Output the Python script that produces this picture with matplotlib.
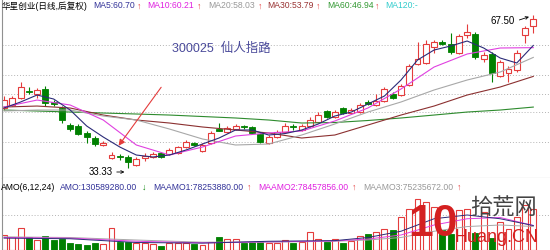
import matplotlib
matplotlib.use("Agg")
import matplotlib.pyplot as plt
from matplotlib.patches import Rectangle
import numpy as np

plt.rcParams['font.family'] = ['Liberation Sans', 'Noto Sans CJK SC', 'DejaVu Sans']

# daily candles (price)
opens = [46.73, 47.40, 48.96, 50.60, 49.85, 50.97, 47.95, 46.73, 42.93, 42.71,
         41.15, 40.03, 38.47, 35.56, 35.90, 35.79, 34.00, 35.56, 35.79, 36.68,
         36.46, 36.68, 38.02, 38.91, 37.13, 38.91, 41.93, 41.37, 42.04, 42.60,
         42.49, 40.92, 38.91, 40.25, 41.37, 42.60, 41.82, 42.71, 43.60, 46.06,
         44.72, 46.73, 45.61, 45.83, 47.95, 47.40, 48.29, 49.85, 49.63, 51.86,
         56.55, 56.78, 60.35, 61.35, 61.02, 59.01, 63.03, 63.25, 57.67, 58.79,
         53.87, 54.54, 55.21, 63.03, 65.04]
highs = [49.41, 49.41, 52.53, 51.42, 51.20, 51.64, 48.51, 47.17, 43.38, 43.15,
         41.59, 40.48, 39.36, 36.90, 36.46, 36.23, 35.79, 36.68, 36.90, 36.90,
         37.80, 38.24, 39.58, 39.14, 38.91, 41.59, 43.38, 42.71, 43.15, 42.93,
         42.71, 41.15, 40.70, 41.82, 43.38, 43.15, 43.15, 44.72, 45.83, 46.28,
         46.28, 46.95, 46.73, 47.84, 48.51, 49.85, 51.42, 50.30, 52.09, 56.55,
         61.47, 61.91, 61.91, 61.91, 63.48, 63.25, 65.49, 63.70, 59.23, 59.23,
         57.45, 56.11, 59.68, 65.04, 67.50]
lows = [46.28, 47.17, 48.74, 49.85, 48.96, 47.17, 47.17, 43.38, 41.59, 40.70,
        38.91, 38.24, 38.24, 35.34, 35.12, 33.33, 33.78, 34.89, 35.56, 35.56,
        36.23, 36.46, 37.80, 38.24, 36.90, 38.69, 41.59, 41.15, 41.82, 42.04,
        40.92, 38.91, 38.69, 40.03, 41.15, 41.82, 41.59, 42.49, 43.38, 44.50,
        44.50, 45.38, 45.38, 45.61, 47.40, 47.17, 48.07, 48.74, 49.41, 51.64,
        56.33, 56.55, 59.01, 60.80, 58.79, 58.79, 62.36, 57.67, 57.00, 52.53,
        53.65, 52.53, 54.76, 61.24, 63.48]
closes = [48.51, 48.96, 51.42, 50.30, 50.75, 47.84, 47.70, 44.05, 42.04, 40.92,
          40.25, 38.69, 38.91, 36.23, 35.68, 34.67, 35.34, 36.01, 36.46, 35.79,
          37.35, 38.02, 39.14, 38.47, 38.47, 41.15, 41.70, 42.26, 42.71, 42.40,
          41.15, 39.14, 40.25, 41.37, 42.71, 42.38, 42.71, 44.05, 45.16, 44.72,
          45.83, 45.61, 46.28, 47.40, 47.73, 48.29, 50.97, 48.96, 51.64, 56.11,
          57.67, 61.02, 61.47, 61.13, 59.23, 62.81, 63.70, 58.12, 58.56, 54.54,
          57.00, 55.44, 59.01, 64.59, 66.61]

# moving average lines
ma5_idx = list(range(0, 65, 2))
ma5 = [46.73, 48.07, 49.63, 48.74, 46.28, 42.71, 40.25, 38.02, 36.23, 35.79,
       36.23, 37.35, 38.69, 40.03, 41.82, 41.82, 40.70, 41.03, 41.82, 43.16,
       44.94, 45.83, 47.62, 49.41, 52.98, 57.45, 59.68, 60.57, 61.69, 60.13,
       57.89, 56.78, 60.70]
ma_idx = list(range(0, 65, 4))
ma10 = [46.95, 48.51, 47.40, 44.05, 38.47, 36.23, 38.02, 40.48, 41.15, 41.59,
        43.83, 46.73, 50.97, 55.88, 58.79, 60.13, 60.21]
ma20 = [46.06, 46.28, 46.28, 44.94, 44.05, 42.04, 39.81, 38.47, 38.69, 40.70,
        43.16, 45.83, 48.07, 50.75, 52.98, 54.77, 58.03]
ma30 = [46.95, 47.17, 46.73, 45.16, 44.05, 43.38, 42.49, 41.82, 41.15, 40.03,
        40.70, 42.93, 45.16, 47.17, 49.63, 51.42, 53.79]
ma60 = [46.28, 46.06, 45.83, 45.61, 45.39, 45.16, 44.83, 44.50, 44.05, 43.38,
        43.49, 43.94, 44.50, 45.16, 45.83, 46.28, 46.94]
price_grid = [60.80, 54.10, 49.85, 45.83, 39.14]

# turnover (AMO, millions)
amo = [48.0, 41.6, 70.4, 41.6, 32.0, 44.8, 32.0, 35.2, 22.4, 19.2,
       16.0, 22.4, 19.2, 70.4, 25.6, 25.6, 22.4, 22.4, 19.2, 12.8,
       22.4, 22.4, 22.4, 19.2, 16.0, 25.6, 41.6, 35.2, 35.2, 22.4,
       25.6, 28.8, 22.4, 22.4, 32.0, 22.4, 25.6, 57.6, 35.2, 25.6,
       35.2, 22.4, 28.8, 44.8, 51.2, 57.6, 67.2, 64.0, 105.6, 131.2,
       163.2, 153.6, 137.6, 64.0, 51.2, 128.0, 131.2, 54.4, 121.6, 38.4,
       89.6, 67.2, 105.6, 144.0, 130.59]
vol_ma_idx = [0, 8, 16, 24, 32, 40, 44, 48, 52, 56, 60, 64]
maamo1 = [38, 36, 24, 22, 28, 30, 40, 60, 100, 112, 100, 78.25]
maamo2 = [40, 38, 28, 23, 26, 29, 35, 48, 80, 100, 104, 78.46]
maamo3 = [42, 40, 32, 25, 25, 28, 32, 40, 60, 75, 80, 75.24]
vol_grid = [112]

RED = '#e43c3c'
GREEN = '#008000'
W, H = 550, 250

fig = plt.figure(figsize=(5.5, 2.5), dpi=100)
ax1 = fig.add_axes([2 / W, 1 - 178 / H, 548 / W, 178 / H])
ax2 = fig.add_axes([2 / W, 0, 548 / W, 72 / H])

bw = 0.72
for i in range(len(opens)):
    o, h, l, c = opens[i], highs[i], lows[i], closes[i]
    if c >= o:
        ax1.vlines(i, max(o, c), h, color=RED, lw=0.8, zorder=2)
        ax1.vlines(i, l, min(o, c), color=RED, lw=0.8, zorder=2)
        ax1.add_patch(Rectangle((i - bw / 2, o), bw, max(c - o, 0.25),
                                facecolor='white', edgecolor=RED, lw=0.8, zorder=2))
    else:
        ax1.vlines(i, l, h, color=GREEN, lw=0.8, zorder=2)
        ax1.add_patch(Rectangle((i - bw / 2, c), bw, max(o - c, 0.3),
                                facecolor=GREEN, edgecolor=GREEN, lw=0.6, zorder=2))

ax1.plot(ma_idx, ma60, color='#2e8b2e', lw=0.8, zorder=3)
ax1.plot(ma_idx, ma30, color='#8b3030', lw=0.8, zorder=3)
ax1.plot(ma_idx, ma20, color='#a8a8a8', lw=0.8, zorder=3)
ax1.plot(ma_idx, ma10, color='#e040e0', lw=0.8, zorder=3)
ax1.plot(ma5_idx, ma5, color='#2b2b78', lw=0.8, zorder=3)

for g in price_grid:
    ax1.axhline(g, color='#b4b4b4', lw=0.7, ls=(0, (1, 2)), zorder=1)

ax1.set_xlim(-0.242, 66.02)
ax1.set_ylim(31.10, 70.85)

# annotations
ax1.text(20.3, 59.9, '300025  仙人指路', color='#4a4a9a', fontsize=9,
         va='center', ha='left')
ax1.annotate('', xy=(13.66, 37.80), xytext=(19.2, 51.86),
             arrowprops=dict(arrowstyle='-|>', color=RED, lw=0.8, mutation_scale=9))
ax1.annotate('', xy=(14.9, 32.44), xytext=(13.3, 32.44),
             arrowprops=dict(arrowstyle='->', color='black', lw=0.6, mutation_scale=5))
ax1.text(13.1, 32.44, '33.33', fontsize=7, ha='right', va='center')
ax1.annotate('', xy=(63.8, 67.3), xytext=(62.0, 66.2),
             arrowprops=dict(arrowstyle='->', color='black', lw=0.6, mutation_scale=5))
ax1.text(61.8, 66.15, '67.50', fontsize=7, ha='right', va='center')

for s in ['top', 'right']:
    ax1.spines[s].set_visible(False)
ax1.spines['left'].set_color('#909090')
ax1.spines['bottom'].set_color('#a0a0a0')
ax1.set_xticks([])
ax1.set_yticks([])

# volume pane
for i, v in enumerate(amo):
    if closes[i] >= opens[i]:
        ax2.add_patch(Rectangle((i - bw / 2, 0), bw, v, facecolor='white',
                                edgecolor=RED, lw=0.8, zorder=2))
    else:
        ax2.add_patch(Rectangle((i - bw / 2, 0), bw, v, facecolor=GREEN,
                                edgecolor=GREEN, lw=0.6, zorder=2))
ax2.plot(vol_ma_idx, maamo3, color='#a8a8a8', lw=0.7, zorder=3)
ax2.plot(vol_ma_idx, maamo2, color='#e040e0', lw=0.7, zorder=3)
ax2.plot(vol_ma_idx, maamo1, color='#2b2b78', lw=0.7, zorder=3)
for g in vol_grid:
    ax2.axhline(g, color='#b4b4b4', lw=0.7, ls=(0, (1, 2)), zorder=1)
ax2.set_xlim(-0.242, 66.02)
ax2.set_ylim(0, 230.4)
for s in ['top', 'right', 'bottom']:
    ax2.spines[s].set_visible(False)
ax2.spines['left'].set_color('#909090')
ax2.set_xticks([])
ax2.set_yticks([])

# watermark
fig.text(433 / W, 1 - 224 / H, '10', color='#d42020', fontsize=32,
         fontweight='bold', ha='center', va='center', zorder=5)
fig.text(503 / W, 1 - 209 / H, '拾荒网', color='#444444', fontsize=16,
         ha='center', va='center', zorder=5)
fig.text(496 / W, 1 - 237 / H, 'Huang.CN', color='#d42020', fontsize=13,
         ha='center', va='center', zorder=5)

# header rows
top_row = [('华星创业(日线,后复权)', 2, 'black'), ('MA5:60.70', 93, '#333399'),
           ('↑', 137, RED), ('MA10:60.21', 147, '#e020e0'), ('↑', 197, RED),
           ('MA20:58.03', 208, '#999999'), ('↑', 258, RED),
           ('MA30:53.79', 267, '#993333'), ('↑', 316, RED),
           ('MA60:46.94', 327, '#339933'), ('↑', 375, RED),
           ('MA120:-', 385, '#33cccc')]
for txt, x, col in top_row:
    fig.text(x / W, 1 - 6 / H, txt, color=col, fontsize=6.2, va='center')

vol_row = [('AMO(6,12,24)', 1, 'black'), ('AMO:130589280.00', 60, '#333399'),
           ('↓', 142, GREEN), ('MAAMO1:78253880.00', 153, '#333399'),
           ('↑', 247, RED), ('MAAMO2:78457856.00', 258, '#e020e0'),
           ('↑', 352, RED), ('MAAMO3:75235672.00', 363, '#999999'),
           ('↑', 457, RED)]
for txt, x, col in vol_row:
    fig.text(x / W, 1 - 187 / H, txt, color=col, fontsize=6.2, va='center')

fig.savefig('out.png', dpi=100)
